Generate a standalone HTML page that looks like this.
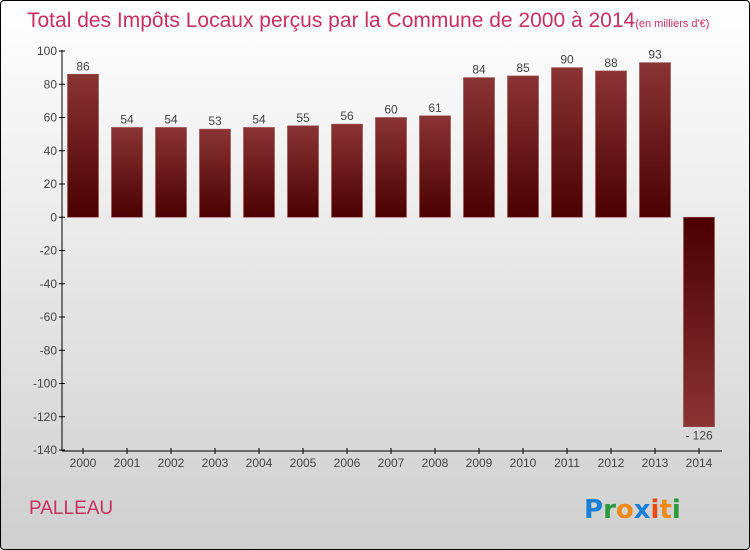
<!DOCTYPE html>
<html><head><meta charset="utf-8"><style>
body{margin:0}
#wrap{width:748px;height:548px;border:1px solid #000;border-radius:4px;background:linear-gradient(#ffffff,#cfcfcf);position:relative;overflow:hidden;font-family:"Liberation Sans",sans-serif}
svg{position:absolute;left:0;top:0}
</style></head><body>
<div id="wrap">
<svg id="c" width="750" height="550">
<defs>
<linearGradient id="gp" x1="0" y1="0" x2="0" y2="1"><stop offset="0" stop-color="#8a3434"/><stop offset="1" stop-color="#4a0000"/></linearGradient>
<linearGradient id="gn" x1="0" y1="0" x2="0" y2="1"><stop offset="0" stop-color="#4a0000"/><stop offset="1" stop-color="#8a3434"/></linearGradient>
</defs>
<text x="26" y="26" font-size="21" fill="#c8305f">Total des Impôts Locaux perçus par la Commune de 2000 à 2014<tspan font-size="11">(en milliers d'€)</tspan></text>
<text x="28" y="513" font-size="19" fill="#c8305f">PALLEAU</text>
<g font-size="26" font-weight="bold" font-family="'DejaVu Sans',sans-serif">
<text x="583" y="517" fill="#1a7fd6">P<tspan fill="#2a9a3a">r</tspan><tspan fill="#f08a10">o</tspan><tspan fill="#1a7fd6">x</tspan><tspan fill="#e84a10">i</tspan><tspan fill="#f08a10">t</tspan><tspan fill="#2a9a3a">i</tspan></text>
</g>
</svg>
</div>
<script>
const years=["2000","2001","2002","2003","2004","2005","2006","2007","2008","2009","2010","2011","2012","2013","2014"];
const values=[86,54,54,53,54,55,56,60,61,84,85,90,88,93,-126];
const yTicks=[100,80,60,40,20,0,-20,-40,-60,-80,-100,-120,-140];
const NS="http://www.w3.org/2000/svg";
const svg=document.getElementById('c');
const y=v=>216.25-v*1.6625;
const x=i=>82+i*44;
function mk(t,a){const e=document.createElementNS(NS,t);for(const k in a)e.setAttribute(k,a[k]);svg.appendChild(e);return e;}
let ax=mk('line',{x1:61,y1:49,x2:61,y2:450,stroke:'#000'});


let bx=mk('line',{x1:61,y1:450,x2:721,y2:450,stroke:'#000'});


yTicks.forEach(v=>{
 const l=mk('line',{x1:58,x2:64,y1:y(v),y2:y(v),stroke:'#000'});
 
 
 const t=mk('text',{x:56,y:y(v)+4,'text-anchor':'end','font-size':12,fill:'#444'});
 t.textContent=v;
 
 
});
years.forEach((yr,i)=>{
 const v=values[i];
 const top=Math.min(y(v),y(0)),h=Math.abs(y(v)-y(0));
 const r=mk('rect',{x:x(i)-15.5,y:top,width:31,height:h,fill:v>=0?'url(#gp)':'url(#gn)',stroke:'#9a4a4a','stroke-width':0.6});
 
 
 const l=mk('text',{x:x(i),y:v>=0?y(v)-4:y(v)+13,'text-anchor':'middle','font-size':12,fill:'#444'});
 l.textContent=v<0?'- '+Math.abs(v):v;
 
 
 const tk=mk('line',{x1:x(i),x2:x(i),y1:447,y2:453,stroke:'#000'});
 
 
 const xl=mk('text',{x:x(i),y:466,'text-anchor':'middle','font-size':12,fill:'#444'});
 xl.textContent=yr;
 
 
});
</script>
</body></html>
